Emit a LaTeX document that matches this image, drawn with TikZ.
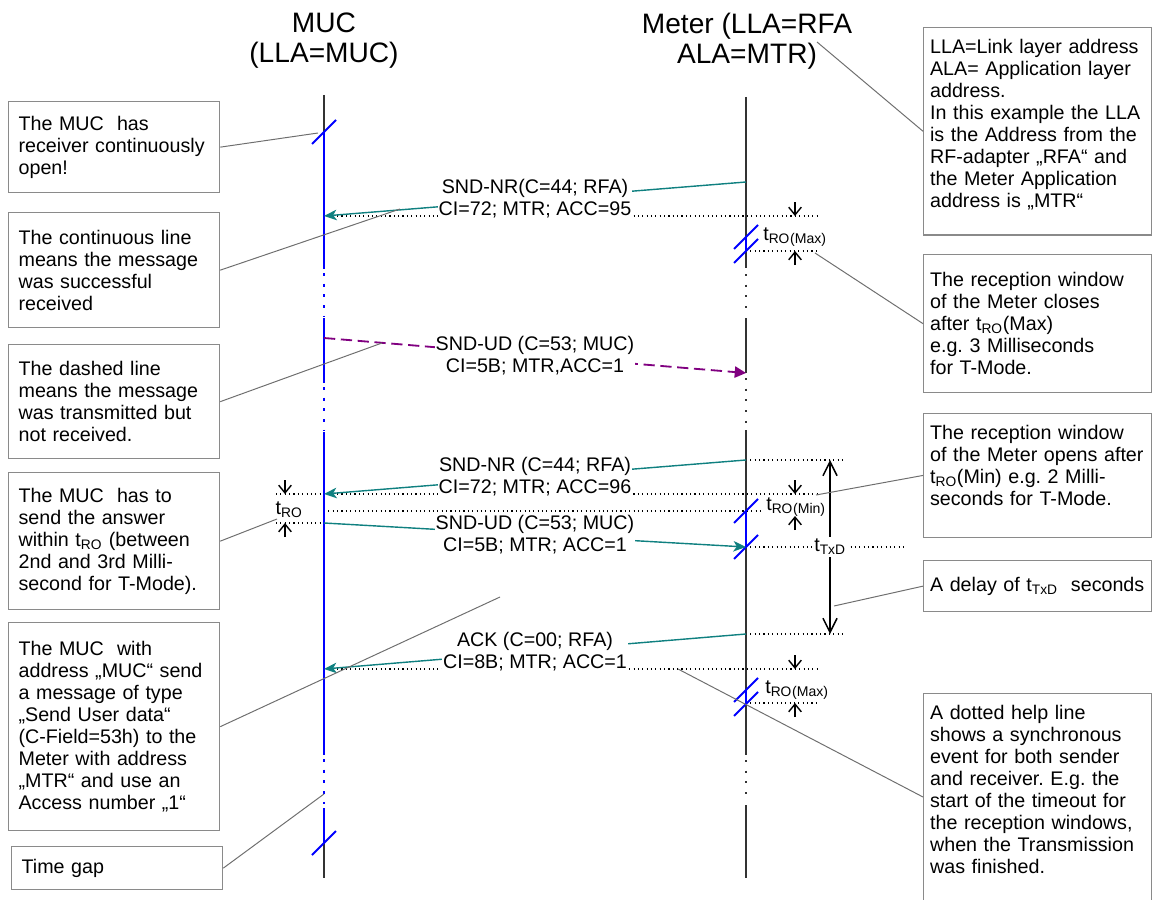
\documentclass[tikz,border=0pt]{standalone}
\usepackage{fontspec}
\setmainfont{Liberation Sans}
\usepackage{tikz}
\usetikzlibrary{arrows.meta}
\definecolor{rxblue}{HTML}{0000FF}
\definecolor{msgteal}{HTML}{0F8080}
\definecolor{lostpurple}{HTML}{800080}
\definecolor{notegray}{HTML}{8A8A8A}
\definecolor{callgray}{HTML}{6E6E6E}
\newcommand{\tRO}{t\textsubscript{RO}}
\newcommand{\tTxD}{t\textsubscript{TxD}}
\newcommand{\winlabel}[1]{\tRO\raisebox{-2pt}{\fontsize{10}{12}\selectfont(#1)}}
\frenchspacing

\begin{document}
\begin{tikzpicture}[x=0.025cm,y=-0.025cm,
  font=\fontsize{14}{15.6}\selectfont,
  head/.style={align=center,anchor=north,inner sep=0pt,font=\fontsize{20}{21.3}\selectfont},
  note/.style={draw=notegray,line width=0.9pt,anchor=north west,align=left,inner ysep=8.5pt},
  lnote/.style={note,inner xsep=7.1pt,text width=4.775cm},
  rnote/.style={note,inner xsep=4.6pt,text width=5.37cm},
  life/.style={draw=black!80,line width=0.9pt},
  lifegap/.style={draw=black!80,line width=1.1pt,dash pattern=on 1.4pt off 6.2pt},
  rx/.style={draw=rxblue,line width=1.9pt},
  rxgap/.style={draw=rxblue,line width=1.9pt,dash pattern=on 2pt off 5.6pt},
  slash/.style={draw=rxblue,line width=1.3pt},
  helper/.style={draw=black,line width=0.8pt,dash pattern=on 0.8pt off 2.3pt},
  msg/.style={draw=msgteal,line width=1pt,-{Stealth[length=9pt,width=7.5pt,inset=2.5pt]}},
  lost/.style={draw=lostpurple,line width=1.3pt,dash pattern=on 8pt off 4pt,-{Triangle[length=8pt,width=8pt]}},
  lbl/.style={fill=white,inner sep=0.5pt,align=center},
  tmark/.style={line width=1pt,-{Straight Barb[length=5.5pt,width=9pt]}},
  txd/.style={line width=1.1pt,{Straight Barb[length=10pt,width=10pt]}-{Straight Barb[length=10pt,width=10pt]}},
  callout/.style={draw=callgray,line width=0.7pt}]
\useasboundingbox (0,0) rectangle (1152,900);
\clip (0,0) rectangle (1152,900);

\node[head] (mucHead) at (324,13) {MUC\\(LLA=MUC)};
\node[head] (mtrHead) at (747,13) {Meter (LLA=RFA\\ALA=MTR)};

\coordinate (nr1From) at (746,182);
\coordinate (nr1To) at (324,216);
\coordinate (ud1From) at (324,338);
\coordinate (ud1To) at (746,373);
\coordinate (nr2From) at (746,460);
\coordinate (nr2To) at (324,494);
\coordinate (ud2From) at (324,523);
\coordinate (ud2To) at (746,547);
\coordinate (ackFrom) at (746,634);
\coordinate (ackTo) at (324,669);

\draw[helper] (nr1To) -- (818,216);
\draw[helper] (746,251) -- (818,251);
\draw[helper] (nr2From) -- (845,460);
\draw[helper] (276,494) -- (818,494);
\draw[helper] (324,511) -- (764,511);
\draw[helper] (276,523) -- (ud2From);
\draw[helper] (ud2To) -- (904,547);
\draw[helper] (ackFrom) -- (845,634);
\draw[helper] (ackTo) -- (818,669);
\draw[helper] (746,703) -- (818,703);

\draw[life] (324,95) -- (324,132);
\draw[rx] (324,132) -- (324,269);
\draw[rxgap] (324,273) -- (324,316);
\draw[rx] (324,318) -- (324,383);
\draw[rxgap] (324,387) -- (324,430);
\draw[rx] (324,432) -- (324,755);
\draw[rxgap] (324,759) -- (324,804);
\draw[rx] (324,808) -- (324,843);
\draw[life] (324,843) -- (324,878);

\draw[life] (746,97) -- (746,237);
\draw[rx] (746,237) -- (746,251);
\draw[life] (746,251) -- (746,268);
\draw[lifegap] (746,274) -- (746,316);
\draw[life] (746,318) -- (746,373);
\draw[lifegap] (746,378) -- (746,428);
\draw[life] (746,430) -- (746,511);
\draw[rx] (746,511) -- (746,547);
\draw[life] (746,547) -- (746,690);
\draw[rx] (746,690) -- (746,704);
\draw[life] (746,704) -- (746,755);
\draw[lifegap] (746,760) -- (746,802);
\draw[life] (746,805) -- (746,878);

\draw[slash] (324,132) ++(-12,12) -- ++(24,-24);
\draw[slash] (324,843) ++(-12,12) -- ++(24,-24);
\draw[slash] (746,237) ++(-12,12) -- ++(24,-24);
\draw[slash] (746,251) ++(-12,12) -- ++(24,-24);
\draw[slash] (746,511) ++(-12,12) -- ++(24,-24);
\draw[slash] (746,547) ++(-12,12) -- ++(24,-24);
\draw[slash] (746,690) ++(-12,12) -- ++(24,-24);
\draw[slash] (746,704) ++(-12,12) -- ++(24,-24);

\draw[msg] (nr1From) -- node[lbl] (nr1Label) {SND-NR(C=44; RFA)\\CI=72; MTR; ACC=95} (nr1To);
\draw[lost] (ud1From) -- node[lbl] (ud1Label) {SND-UD (C=53; MUC)\\CI=5B; MTR,ACC=1} (ud1To);
\draw[msg] (nr2From) -- node[lbl] (nr2Label) {SND-NR (C=44; RFA)\\CI=72; MTR; ACC=96} (nr2To);
\draw[msg] (ud2From) -- node[lbl] (ud2Label) {SND-UD (C=53; MUC)\\CI=5B; MTR; ACC=1} (ud2To);
\draw[msg] (ackFrom) -- node[lbl] (ackLabel) {ACK (C=00; RFA)\\CI=8B; MTR; ACC=1} (ackTo);

\draw[tmark] (795,202) -- (795,216);
\draw[tmark] (795,265) -- (795,251);
\node[anchor=west,inner sep=0pt] (roMax1) at (763,237) {\winlabel{Max}};
\draw[tmark] (795,480) -- (795,494);
\node[anchor=west,inner sep=0pt] (roMin) at (766,507) {\winlabel{Min}};
\draw[tmark] (795,530) -- (795,516);
\draw[tmark] (795,655) -- (795,669);
\draw[tmark] (795,717) -- (795,703);
\node[anchor=west,inner sep=0pt] (roMax2) at (765,690) {\winlabel{Max}};
\draw[tmark] (285,480) -- (285,494);
\draw[tmark] (285,537) -- (285,523);
\node[inner sep=0pt] (roMuc) at (289,510) {\tRO};

\coordinate (txdTop) at (830,460);
\coordinate (txdBot) at (830,634);
\draw[txd] (txdTop) -- node[fill=white,inner sep=1.5pt] (txdLabel) {\tTxD} (txdBot);

\node[lnote,minimum height=2.275cm] (rxOpen) at (8,101) {The MUC~ has\\receiver continuously\\open!};
\node[lnote,minimum height=2.875cm] (solidNote) at (8,212) {The continuous line\\means the message\\was successful\\received};
\node[lnote,minimum height=2.85cm] (dashedNote) at (8,344) {The dashed line\\means the message\\was transmitted but\\not received.};
\node[lnote,minimum height=3.425cm] (answerNote) at (8,472) {The MUC~ has to\\send the answer\\within \tRO{} (between\\2nd and 3rd Milli-\\second for T-Mode).};
\node[lnote,minimum height=5.2cm] (userNote) at (8,622) {The MUC~ with\\address „MUC“ send\\a message of type\\„Send User data“\\(C-Field=53h) to the\\Meter with address\\„MTR“ and use an\\Access number „1“};
\node[lnote,minimum height=1.075cm] (gapNote) at (11,846) {Time gap};

\node[rnote,text height=10pt,text depth=120.4pt] (llaNote) at (923,27) {LLA=Link layer address\\ALA= Application layer\\address.\\In this example the LLA\\is the Address from the\\RF-adapter „RFA“ and\\the Meter Application\\address is „MTR“};
\node[rnote,minimum height=3.45cm] (closeNote) at (923,254) {The reception window\\of the Meter closes\\after \tRO(Max)\\e.g. 3 Milliseconds\\for T-Mode.};
\node[rnote,text height=10pt,text depth=60.9pt] (openNote) at (923,413) {The reception window\\of the Meter opens after\\\tRO(Min) e.g. 2 Milli-\\seconds for T-Mode.};
\node[rnote,minimum height=1.275cm] (delayNote) at (923,560) {A delay of \tTxD~ seconds};
\node[rnote,text height=10pt,text depth=200pt] (syncNote) at (923,693) {A dotted help line\\shows a synchronous\\event for both sender\\and receiver. E.g. the\\start of the timeout for\\the reception windows,\\when the Transmission\\was finished.};

\coordinate (openPin) at (318,133);
\coordinate (solidPin) at (400,209);
\coordinate (dashedPin) at (382,343);
\coordinate (answerPin) at (277,519);
\coordinate (userPin) at (500,597);
\coordinate (gapPin) at (324,794);
\coordinate (llaPin) at (817,42);
\coordinate (closePin) at (815,253);
\coordinate (openWinPin) at (816,495);
\coordinate (delayPin) at (834,606);
\coordinate (syncPin) at (678,669);
\draw[callout] (rxOpen.east) -- (openPin);
\draw[callout] (solidNote.east) -- (solidPin);
\draw[callout] (dashedNote.east) -- (dashedPin);
\draw[callout] (answerNote.east) -- (answerPin);
\draw[callout] (userNote.east) -- (userPin);
\draw[callout] (gapNote.east) -- (gapPin);
\draw[callout] (llaNote.west) -- (llaPin);
\draw[callout] (closeNote.west) -- (closePin);
\draw[callout] (openNote.west) -- (openWinPin);
\draw[callout] (delayNote.west) -- (delayPin);
\draw[callout] (syncNote.north west) ++(0,104) -- (syncPin);
\end{tikzpicture}
\end{document}
